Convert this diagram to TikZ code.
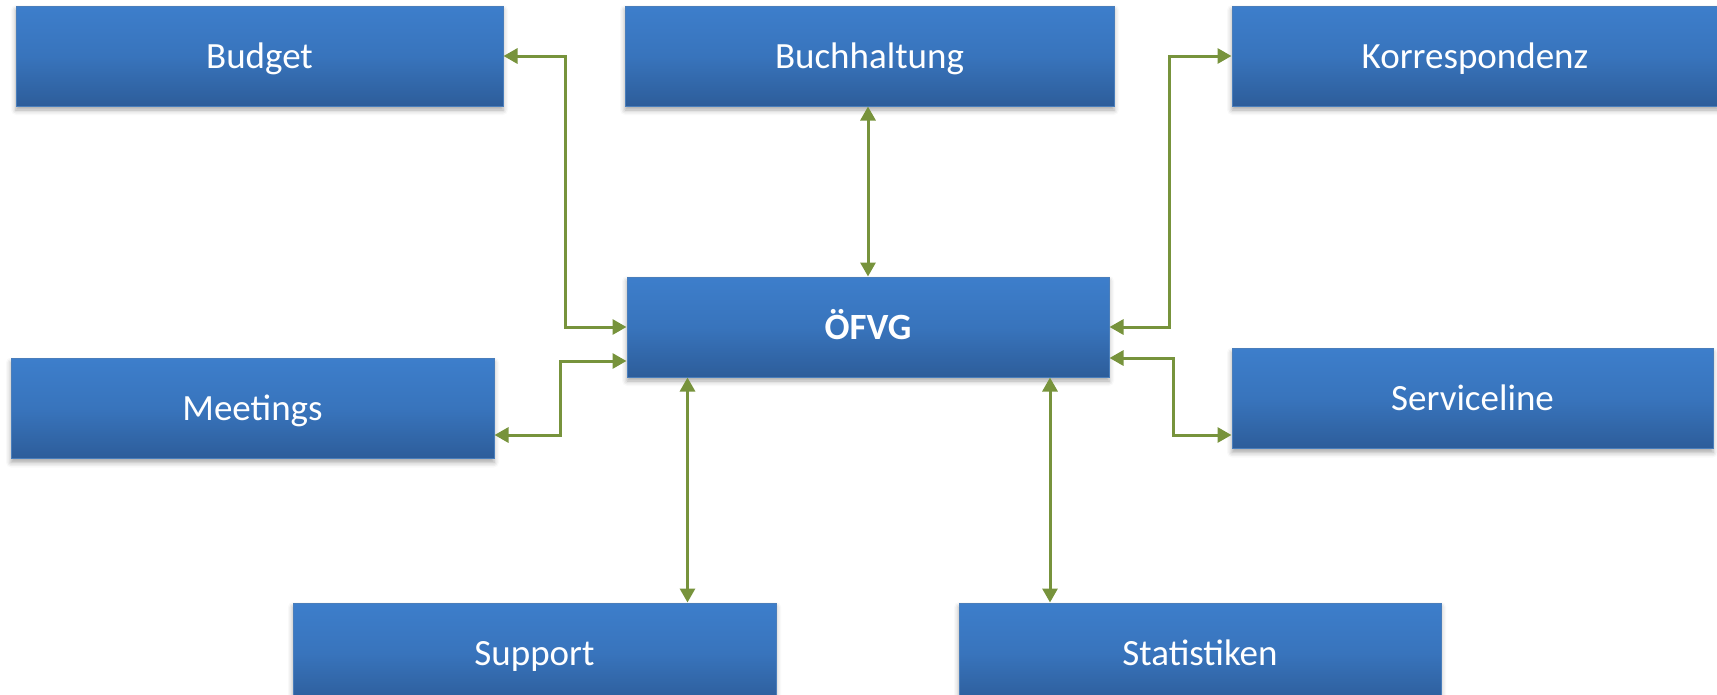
\documentclass[tikz,border=0pt]{standalone}
\usepackage{fontspec}
\setmainfont{Carlito}
\usetikzlibrary{arrows.meta,shadows.blur}
\definecolor{boxtop}{RGB}{61,126,203}
\definecolor{boxbot}{RGB}{45,93,154}
\definecolor{boxedge}{RGB}{74,126,187}
\definecolor{conncol}{RGB}{119,147,60}
\tikzset{
  box/.style={rectangle, minimum height=100pt, inner sep=0pt,
    text height=24pt, text depth=0pt,
    top color=boxtop, bottom color=boxbot, middle color=boxtop!70!boxbot,
    draw=boxedge, line width=1pt, text=white,
    font=\fontsize{37}{40}\selectfont,
    blur shadow={shadow xshift=0pt, shadow yshift=-4pt, shadow blur radius=5pt, shadow opacity=35}},
  conn/.style={draw=conncol, line width=3pt, {Triangle[length=14pt,width=15pt]}-{Triangle[length=14pt,width=15pt]}}
}
\begin{document}
\begin{tikzpicture}[x=1pt,y=-1pt]
\useasboundingbox (0,0) rectangle (1717,694);
\node[box, minimum width=487pt] (budget) at (259.5,56) {Budget};
\node[box, minimum width=489pt] (buch) at (869.5,56) {Buchhaltung};
\node[box, minimum width=486pt] (korr) at (1475,56) {Korrespondenz};
\node[box, minimum width=482pt, font=\fontsize{37}{40}\selectfont\bfseries] (ofvg) at (868,327) {ÖFVG};
\node[box, minimum width=483pt] (meet) at (252.5,408.5) {Meetings};
\node[box, minimum width=481pt] (serv) at (1472.5,398.5) {Serviceline};
\node[box, minimum width=483pt] (sup) at (534.5,653) {Support};
\node[box, minimum width=482pt] (stat) at (1200,653) {Statistiken};

\draw[conn] (budget.east) -- ++(62,0) |- (ofvg.west);
\draw[conn] (ofvg.north |- buch.south) -- (ofvg.north);
\draw[conn] (korr.west) -- ++(-62,0) |- (ofvg.east);
\draw[conn] ([yshift=-34pt]ofvg.west) -- ++(-66,0) |- ([yshift=-26.5pt]meet.east);
\draw[conn] ([yshift=-31pt]ofvg.east) -- ++(64,0) |- ([yshift=-36.5pt]serv.west);
\coordinate (s1) at ([xshift=-180.5pt]ofvg.south);
\coordinate (s2) at ([xshift=182pt]ofvg.south);
\draw[conn] (s1) -- (s1 |- sup.north);
\draw[conn] (s2) -- (s2 |- stat.north);
\end{tikzpicture}
\end{document}
